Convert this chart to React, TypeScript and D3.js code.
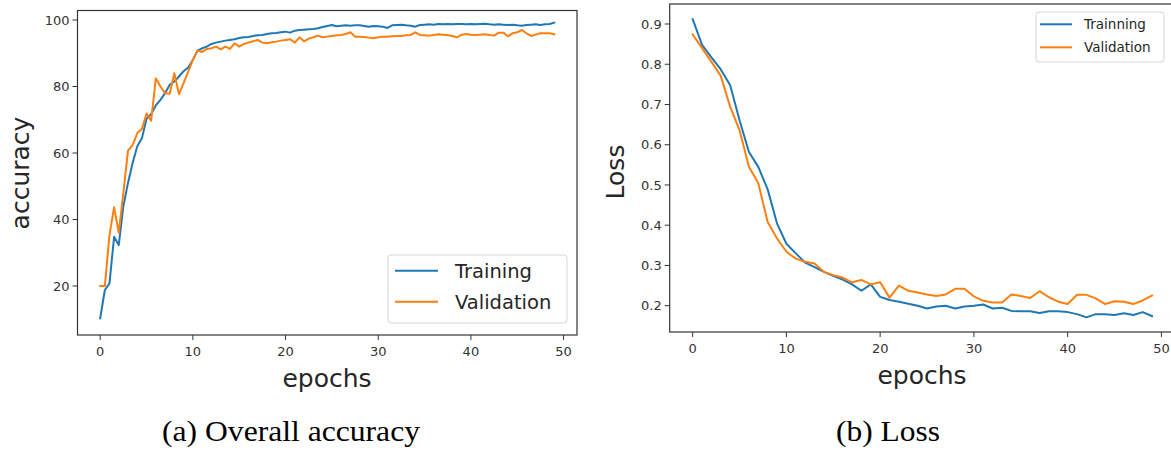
import React from "react";
import * as d3 from "d3";

// ---------- Data ----------
// Accuracy recorded twice per epoch (x = index * 0.5)
const accTraining: number[] = [
  10.3, 18.8, 20.8, 34.8, 32.3, 44, 51, 57, 62, 64.4,
  70.3, 71.7, 74.3, 76, 78, 80.5, 81.5, 83, 84.6, 85.7,
  88, 90.8, 91.5, 92, 92.8, 93.2, 93.5, 93.8, 94, 94.2,
  94.6, 94.8, 94.9, 95.2, 95.4, 95.5, 95.8, 96, 96.1, 96.3,
  96.5, 96.2, 96.8, 97, 97.1, 97.2, 97.3, 97.5, 97.9, 98.2,
  98.5, 98.1, 98.3, 98.4, 98.3, 98.4, 98.4, 98.2, 98.0, 98.2,
  98.1, 98.0, 97.6, 98.4, 98.5, 98.6, 98.4, 98.3, 98.0, 98.5,
  98.6, 98.7, 98.6, 98.8, 98.7, 98.8, 98.7, 98.8, 98.8, 98.7,
  98.8, 98.7, 98.8, 98.9, 98.7, 98.6, 98.7, 98.6, 98.5, 98.6,
  98.4, 98.3, 98.5, 98.6, 98.7, 98.5, 98.7, 98.8, 99.2,
];
const accValidation: number[] = [
  20, 20, 35.3, 43.7, 36, 48, 60.7, 62.4, 66, 67.2,
  71.9, 69.7, 82.5, 80, 78, 77.8, 84, 77.7, 81, 84.5,
  88, 90.8, 90.4, 91.3, 91.5, 92, 91.2, 92, 91.3, 93,
  92, 92.8, 93.2, 93.6, 94, 93.2, 93, 93.3, 93.5, 93.8,
  94, 94.2, 93.2, 94.8, 93.6, 94.4, 94.8, 95.3, 94.8, 95,
  95.2, 95.4, 95.5, 95.8, 96.3, 95, 95, 94.9, 94.7, 94.5,
  94.8, 95, 95, 95.1, 95.2, 95.2, 95.4, 95.5, 96.3, 95.5,
  95.4, 95.3, 95.5, 95.7, 95.6, 95.4, 95.2, 94.8, 95.6, 95.8,
  95.6, 95.5, 95.6, 95.7, 95.5, 95.3, 96.2, 96.2, 95.1, 96,
  96.3, 97, 96, 95.2, 95.6, 96, 96, 96, 95.7,
];

// Loss per epoch (0..49)
const lossTraining: number[] = [
  0.912, 0.848, 0.817, 0.787, 0.748, 0.661, 0.582, 0.545, 0.489, 0.404,
  0.354, 0.33, 0.307, 0.296, 0.284, 0.274, 0.265, 0.253, 0.237, 0.253,
  0.222, 0.214, 0.21, 0.205, 0.2, 0.193, 0.198, 0.2, 0.193, 0.198,
  0.2, 0.203, 0.193, 0.195, 0.187, 0.186, 0.186, 0.182, 0.186, 0.186,
  0.184, 0.179, 0.171, 0.179, 0.179, 0.177, 0.181, 0.177, 0.184, 0.174,
];
const lossValidation: number[] = [
  0.874, 0.84, 0.806, 0.771, 0.694, 0.636, 0.545, 0.504, 0.408, 0.367,
  0.334, 0.317, 0.309, 0.305, 0.284, 0.276, 0.27, 0.258, 0.264, 0.253,
  0.258, 0.22, 0.25, 0.237, 0.233, 0.228, 0.224, 0.228, 0.242, 0.242,
  0.223, 0.212, 0.208, 0.208, 0.228, 0.224, 0.219, 0.236, 0.221, 0.21,
  0.204, 0.227, 0.227, 0.218, 0.204, 0.211, 0.21, 0.204, 0.213, 0.225,
];

const xTicks: number[] = [0, 10, 20, 30, 40, 50];
const accTicks: number[] = [20, 40, 60, 80, 100];
const lossTicks: number[] = [0.2, 0.3, 0.4, 0.5, 0.6, 0.7, 0.8, 0.9];

const accLegend: string[] = ["Training", "Validation"];
const lossLegend: string[] = ["Trainning", "Validation"];

const BLUE = "#1f77b4";
const ORANGE = "#ff7f0e";
const AX = "#333333";
const FONT = "'DejaVu Sans', sans-serif";
const SERIF = "'Liberation Serif', 'DejaVu Serif', serif";

type Panel = {
  x0: number; x1: number; y0: number; y1: number;
  yDomain: [number, number];
};

function Axes({ p, yTicks, fmt, children, clipId }: {
  p: Panel; yTicks: number[]; fmt: (v: number) => string; children: (xs: d3.ScaleLinear<number, number>, ys: d3.ScaleLinear<number, number>) => React.ReactNode; clipId: string;
}) {
  const xs = d3.scaleLinear().domain([-2.45, 51.45]).range([p.x0, p.x1]);
  const ys = d3.scaleLinear().domain(p.yDomain).range([p.y1, p.y0]);
  return (
    <g>
      <defs>
        <clipPath id={clipId}>
          <rect x={p.x0} y={p.y0} width={p.x1 - p.x0} height={p.y1 - p.y0} />
        </clipPath>
      </defs>
      <g clipPath={`url(#${clipId})`}>{children(xs, ys)}</g>
      <rect x={p.x0} y={p.y0} width={p.x1 - p.x0} height={p.y1 - p.y0} fill="none" stroke={AX} strokeWidth={1.2} />
      {xTicks.map((t) => (
        <g key={"x" + t}>
          <line x1={xs(t)} x2={xs(t)} y1={p.y1} y2={p.y1 + 5} stroke={AX} strokeWidth={1} />
          <text x={xs(t)} y={p.y1 + 21} textAnchor="middle" fontSize={13} fill={AX} fontFamily={FONT}>{t}</text>
        </g>
      ))}
      {yTicks.map((t) => (
        <g key={"y" + t}>
          <line x1={p.x0 - 5} x2={p.x0} y1={ys(t)} y2={ys(t)} stroke={AX} strokeWidth={1} />
          <text x={p.x0 - 8} y={ys(t) + 4.7} textAnchor="end" fontSize={13} fill={AX} fontFamily={FONT}>{fmt(t)}</text>
        </g>
      ))}
    </g>
  );
}

function Legend({ x, y, w, h, labels, hx0, hx1, tx, rows, fs }: {
  x: number; y: number; w: number; h: number; labels: string[]; hx0: number; hx1: number; tx: number; rows: number[]; fs: number;
}) {
  const colors = [BLUE, ORANGE];
  return (
    <g>
      <rect x={x} y={y} width={w} height={h} rx={3} fill="white" fillOpacity={0.8} stroke="#d6d6d6" strokeWidth={1} />
      {labels.map((l, i) => (
        <g key={l}>
          <line x1={hx0} x2={hx1} y1={rows[i]} y2={rows[i]} stroke={colors[i]} strokeWidth={2} />
          <text x={tx} y={rows[i] + fs * 0.36} fontSize={fs} fill="#262626" fontFamily={FONT}>{l}</text>
        </g>
      ))}
    </g>
  );
}

export default function App() {
  const accPanel: Panel = { x0: 77.5, x1: 577, y0: 10.5, y1: 335, yDomain: [5.26, 102.86] };
  const lossPanel: Panel = { x0: 669.7, x1: 1175, y0: 4, y1: 332, yDomain: [0.1346, 0.9497] };

  const mkLine = (xs: d3.ScaleLinear<number, number>, ys: d3.ScaleLinear<number, number>, step: number) =>
    d3.line<number>().x((_, i) => xs(i * step)).y((d) => ys(d));

  return (
    <svg width={1171} height={450} style={{ position: "absolute", left: 0, top: 0, display: "block", background: "white" }}>
      <rect x={0} y={0} width={1171} height={450} fill="white" />
      <Axes p={accPanel} yTicks={accTicks} fmt={(v) => String(v)} clipId="clipA">
        {(xs, ys) => (
          <g fill="none" strokeWidth={2} strokeLinejoin="round" strokeLinecap="square">
            <path d={mkLine(xs, ys, 0.5)(accTraining) || ""} stroke={BLUE} />
            <path d={mkLine(xs, ys, 0.5)(accValidation) || ""} stroke={ORANGE} />
          </g>
        )}
      </Axes>
      <Axes p={lossPanel} yTicks={lossTicks} fmt={(v) => v.toFixed(1)} clipId="clipB">
        {(xs, ys) => (
          <g fill="none" strokeWidth={2} strokeLinejoin="round" strokeLinecap="square">
            <path d={mkLine(xs, ys, 1)(lossTraining) || ""} stroke={BLUE} />
            <path d={mkLine(xs, ys, 1)(lossValidation) || ""} stroke={ORANGE} />
          </g>
        )}
      </Axes>

      <Legend x={388} y={255} w={179} h={68} labels={accLegend} hx0={395} hx1={438} tx={455} rows={[270.7, 301.7]} fs={19.5} />
      <Legend x={1036} y={12} w={128} h={50} labels={lossLegend} hx0={1040} hx1={1072} tx={1084} rows={[24.3, 47.3]} fs={13.5} />

      <text x={327} y={387} textAnchor="middle" fontSize={25} fill="#262626" fontFamily={FONT}>epochs</text>
      <text x={922} y={384} textAnchor="middle" fontSize={25} fill="#262626" fontFamily={FONT}>epochs</text>
      <text transform="translate(29,173) rotate(-90)" textAnchor="middle" fontSize={25} fill="#262626" fontFamily={FONT}>accuracy</text>
      <text transform="translate(624,172) rotate(-90)" textAnchor="middle" fontSize={25} fill="#262626" fontFamily={FONT}>Loss</text>

      <text x={291} y={441} textAnchor="middle" fontSize={28.5} fill="black" fontFamily={SERIF} textLength={258} lengthAdjust="spacingAndGlyphs">(a) Overall accuracy</text>
      <text x={888} y={441} textAnchor="middle" fontSize={28.5} fill="black" fontFamily={SERIF} textLength={104} lengthAdjust="spacingAndGlyphs">(b) Loss</text>
    </svg>
  );
}
